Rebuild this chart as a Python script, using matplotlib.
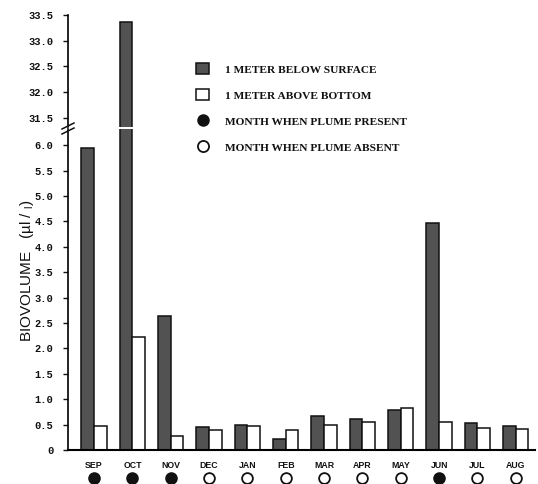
"""Monthly phytoplankton biovolume at two depths, with a broken y axis."""
import matplotlib

matplotlib.use("Agg")

import matplotlib.pyplot as plt
import numpy as np
from matplotlib.lines import Line2D
from matplotlib.patches import Patch
from matplotlib.transforms import blended_transform_factory

months = ["SEP", "OCT", "NOV", "DEC", "JAN", "FEB",
          "MAR", "APR", "MAY", "JUN", "JUL", "AUG"]
below_surface = [5.95, 33.37, 2.63, 0.46, 0.50, 0.22,
                 0.66, 0.61, 0.79, 4.47, 0.54, 0.47]
above_bottom = [0.47, 2.22, 0.27, 0.39, 0.48, 0.39,
                0.49, 0.56, 0.83, 0.56, 0.43, 0.41]
plume_present = [True, True, True, False, False, False,
                 False, False, False, True, False, False]

low_ticks = [0, 0.5, 1.0, 1.5, 2.0, 2.5, 3.0, 3.5, 4.0, 4.5, 5.0, 5.5, 6.0]
high_ticks = [31.5, 32.0, 32.5, 33.0, 33.5]

DARK = "#525252"
INK = "#111111"
TICK_FONT = dict(family="Liberation Mono", weight="bold", size=7.5)

W, H = 538, 484
fig = plt.figure(figsize=(W / 100, H / 100), dpi=100)

# pixel geometry of the two panels: lower 0..6.3, upper 31.3..33.5
x0, x1 = 68, 535
ax_lo = fig.add_axes([x0 / W, (H - 450) / H, (x1 - x0) / W, 321 / H])
ax_hi = fig.add_axes([x0 / W, (H - 127) / H, (x1 - x0) / W, 112 / H])

x = np.arange(len(months))
bw = 0.33
for ax in (ax_lo, ax_hi):
    ax.bar(x - bw / 2, below_surface, bw, color=DARK, edgecolor=INK,
           linewidth=1.1, zorder=2)
    ax.bar(x + bw / 2, above_bottom, bw, color="white", edgecolor=INK,
           linewidth=1.1, zorder=2)
    ax.set_xlim(-0.68, 11.5)
    for side in ("top", "right"):
        ax.spines[side].set_visible(False)
    ax.spines["left"].set_linewidth(1.2)
    ax.tick_params(axis="y", direction="out", length=3.5, width=1.0,
                   pad=7, colors=INK)

ax_lo.set_ylim(0, 6.32)
ax_hi.set_ylim(31.325, 33.5)

ax_lo.set_yticks(low_ticks)
ax_lo.set_yticklabels(["0" if t == 0 else f"{t:.1f}" for t in low_ticks],
                      fontdict=TICK_FONT)
ax_hi.set_yticks(high_ticks)
ax_hi.set_yticklabels([f"{t:.1f}" for t in high_ticks], fontdict=TICK_FONT)

ax_hi.spines["bottom"].set_visible(False)
ax_hi.set_xticks([])
ax_lo.spines["bottom"].set_linewidth(1.5)
ax_lo.set_xticks(x)
ax_lo.set_xticklabels(months, family="Liberation Sans", weight="bold",
                      size=6.3, color=INK)
ax_lo.tick_params(axis="x", length=0, pad=8)

# plume markers under the month names
trans = blended_transform_factory(ax_lo.transData, ax_lo.transAxes)
for xi, present in zip(x, plume_present):
    ax_lo.scatter(xi, -28 / 321, s=60, marker="o", transform=trans,
                  facecolor=INK if present else "white", edgecolor=INK,
                  linewidth=1.3, clip_on=False, zorder=3)

# axis break marks
for dy in (0, 5):
    yb = (H - (126 + dy)) / H
    fig.add_artist(Line2D([(x0 - 6) / W, (x0 + 6) / W], [yb - 3 / H, yb + 3 / H],
                          color=INK, linewidth=1.1))

fig.text(27 / W, 1 - 271 / H, "BIOVOLUME   (µl / $_\\mathregular{l}$)",
         rotation=90, ha="center", va="center", family="Liberation Sans",
         size=11, color=INK)

handles = [
    Patch(facecolor=DARK, edgecolor=INK, linewidth=1.1),
    Patch(facecolor="white", edgecolor=INK, linewidth=1.1),
    Line2D([], [], marker="o", linestyle="", markersize=8,
           markerfacecolor=INK, markeredgecolor=INK),
    Line2D([], [], marker="o", linestyle="", markersize=8,
           markerfacecolor="white", markeredgecolor=INK, markeredgewidth=1.3),
]
labels = ["1 METER BELOW SURFACE", "1 METER ABOVE BOTTOM",
          "MONTH WHEN PLUME PRESENT", "MONTH WHEN PLUME ABSENT"]
fig.legend(handles, labels, loc="upper left",
           bbox_to_anchor=(186 / W, 1 - 53 / H), frameon=False,
           prop=dict(family="Liberation Serif", weight="bold", size=8.2),
           labelspacing=1.3, handlelength=1.1, handleheight=1.1,
           handletextpad=1.4, labelcolor=INK)

fig.savefig("out.png", dpi=100)
